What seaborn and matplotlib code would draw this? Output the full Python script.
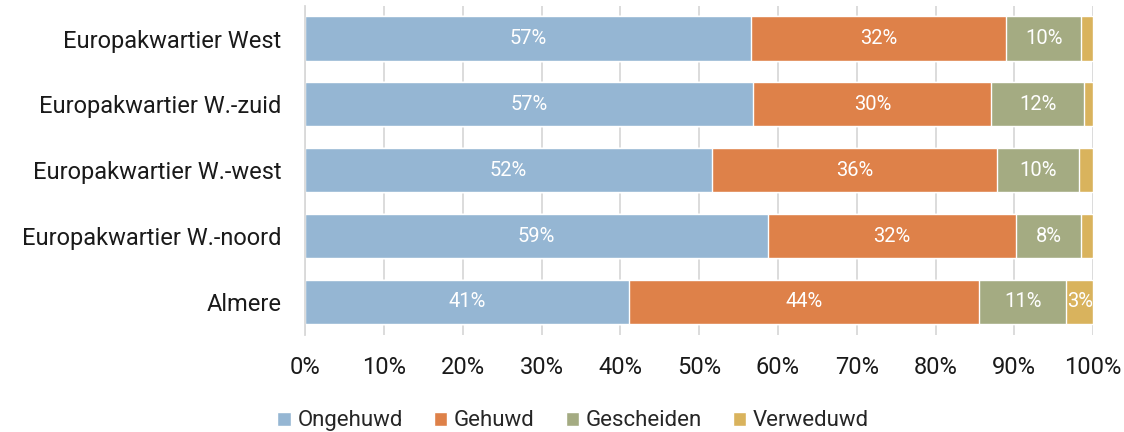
import numpy as np
import pandas as pd
import seaborn as sns
import matplotlib.pyplot as plt
from matplotlib.patches import Patch

areas = ['Europakwartier West', 'Europakwartier W.-zuid', 'Europakwartier W.-west',
         'Europakwartier W.-noord', 'Almere']
ongehuwd = [56.6, 56.9, 51.6, 58.7, 41.1]
gehuwd = [32.4, 30.2, 36.2, 31.5, 44.4]
gescheiden = [9.5, 11.7, 10.4, 8.3, 11.1]
verweduwd = [1.5, 1.2, 1.8, 1.5, 3.4]

series = ['Ongehuwd', 'Gehuwd', 'Gescheiden', 'Verweduwd']
colors = ['#95b6d3', '#de8149', '#a4ab82', '#d9b35d']

sns.set_style('white')
plt.rcParams['font.family'] = ['Roboto', 'DejaVu Sans']

df = pd.DataFrame({'area': areas, 'Ongehuwd': ongehuwd, 'Gehuwd': gehuwd,
                   'Gescheiden': gescheiden, 'Verweduwd': verweduwd})
cum = df[series].cumsum(axis=1)

fig = plt.figure(figsize=(11.24, 4.32), dpi=100)
ax = fig.add_axes([0.2715, 0.225, 0.701, 0.762])

# stacked bars: draw cumulative totals from the back to the front
for s, c in reversed(list(zip(series, colors))):
    sns.barplot(x=cum[s], y=df['area'], color=c, width=0.67, ax=ax,
                saturation=1, orient='h', zorder=2)

for i, row in df.iterrows():
    left = 0
    for s in series:
        v = row[s]
        if v >= 2.5:
            ax.text(left + v / 2, i, '%d%%' % round(v), ha='center', va='center',
                    color='white', fontsize=14.5)
        left += v

ax.set_xlim(0, 100)
ax.set_xticks(range(0, 101, 10))
ax.set_xticklabels(['%d%%' % t for t in range(0, 101, 10)])
ax.xaxis.grid(True, color='#d9d9d9', linewidth=1.3, zorder=0)
ax.set_axisbelow(True)
ax.set_xlabel('')
ax.set_ylabel('')
ax.tick_params(axis='both', labelsize=17, colors='#1a1a1a', length=0)
ax.tick_params(axis='x', pad=15)
ax.tick_params(axis='y', pad=17)
for sp in ['top', 'right', 'bottom']:
    ax.spines[sp].set_visible(False)
ax.spines['left'].set_color('#d9d9d9')
ax.spines['left'].set_linewidth(1.3)

handles = [Patch(facecolor=c, label=s) for s, c in zip(series, colors)]
fig.legend(handles=handles, loc='lower center', ncol=4, frameon=False,
           bbox_to_anchor=(0.51, -0.045), fontsize=16, handlelength=0.6,
           handleheight=0.6, handletextpad=0.3, columnspacing=1.4)

plt.savefig('out.png', dpi=100)
